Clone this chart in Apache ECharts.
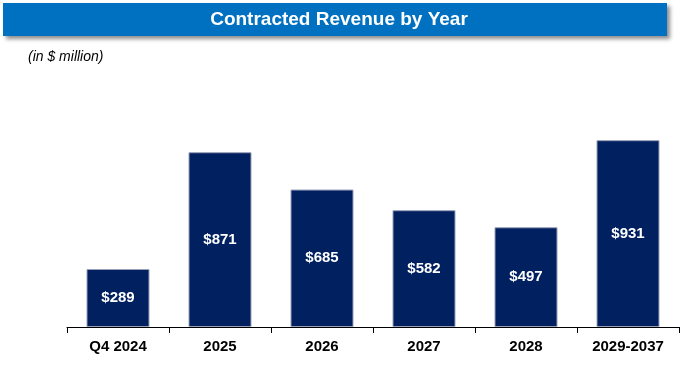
<!DOCTYPE html>
<html><head><meta charset="utf-8">
<script src="https://cdn.jsdelivr.net/npm/echarts@6/dist/echarts.min.js"></script>
<style>html,body{margin:0;padding:0;background:#fff}#c{width:680px;height:367px}</style>
</head><body><div id="c"></div>
<script>
var categories = ['Q4 2024', '2025', '2026', '2027', '2028', '2029-2037'];
var revenue = [289, 871, 685, 582, 497, 931];
var titleText = 'Contracted Revenue by Year';
var unitText = '(in $ million)';

var chart = echarts.init(document.getElementById('c'));
chart.setOption({
  animation: false,
  grid: {left: 67, right: 1, top: 26, bottom: 40},
  graphic: [
    {type: 'rect', shape: {x: 3, y: 3, width: 664, height: 33},
     style: {fill: '#0070C0', shadowBlur: 4, shadowOffsetX: 3, shadowOffsetY: 3, shadowColor: 'rgba(0,0,0,0.45)'}},
    {type: 'text', x: 339, y: 20, style: {text: titleText, fill: '#fff', font: 'bold 19px "Liberation Sans", Arial, sans-serif', align: 'center', verticalAlign: 'middle'}},
    {type: 'text', x: 28, y: 57, style: {text: unitText, fill: '#000', font: 'italic 14px "Liberation Sans", Arial, sans-serif', align: 'left', verticalAlign: 'middle'}}
  ],
  xAxis: {
    type: 'category', data: categories,
    axisLine: {lineStyle: {color: '#000', width: 1}},
    axisTick: {show: true, length: 6, lineStyle: {color: '#000'}},
    axisLabel: {color: '#000', fontWeight: 'bold', fontSize: 15, fontFamily: '"Liberation Sans", Arial, sans-serif', margin: 12}
  },
  yAxis: {type: 'value', min: 0, max: 1500, show: false, splitLine: {show: false}},
  series: [{
    type: 'bar', data: revenue, barWidth: 63,
    itemStyle: {color: '#002060', borderColor: '#9a9fb8', borderWidth: 1},
    label: {show: true, position: 'inside', formatter: function(p){return '$' + p.value;},
      color: '#fff', fontWeight: 'bold', fontSize: 15, fontFamily: '"Liberation Sans", Arial, sans-serif'}
  }]
});
</script></body></html>
